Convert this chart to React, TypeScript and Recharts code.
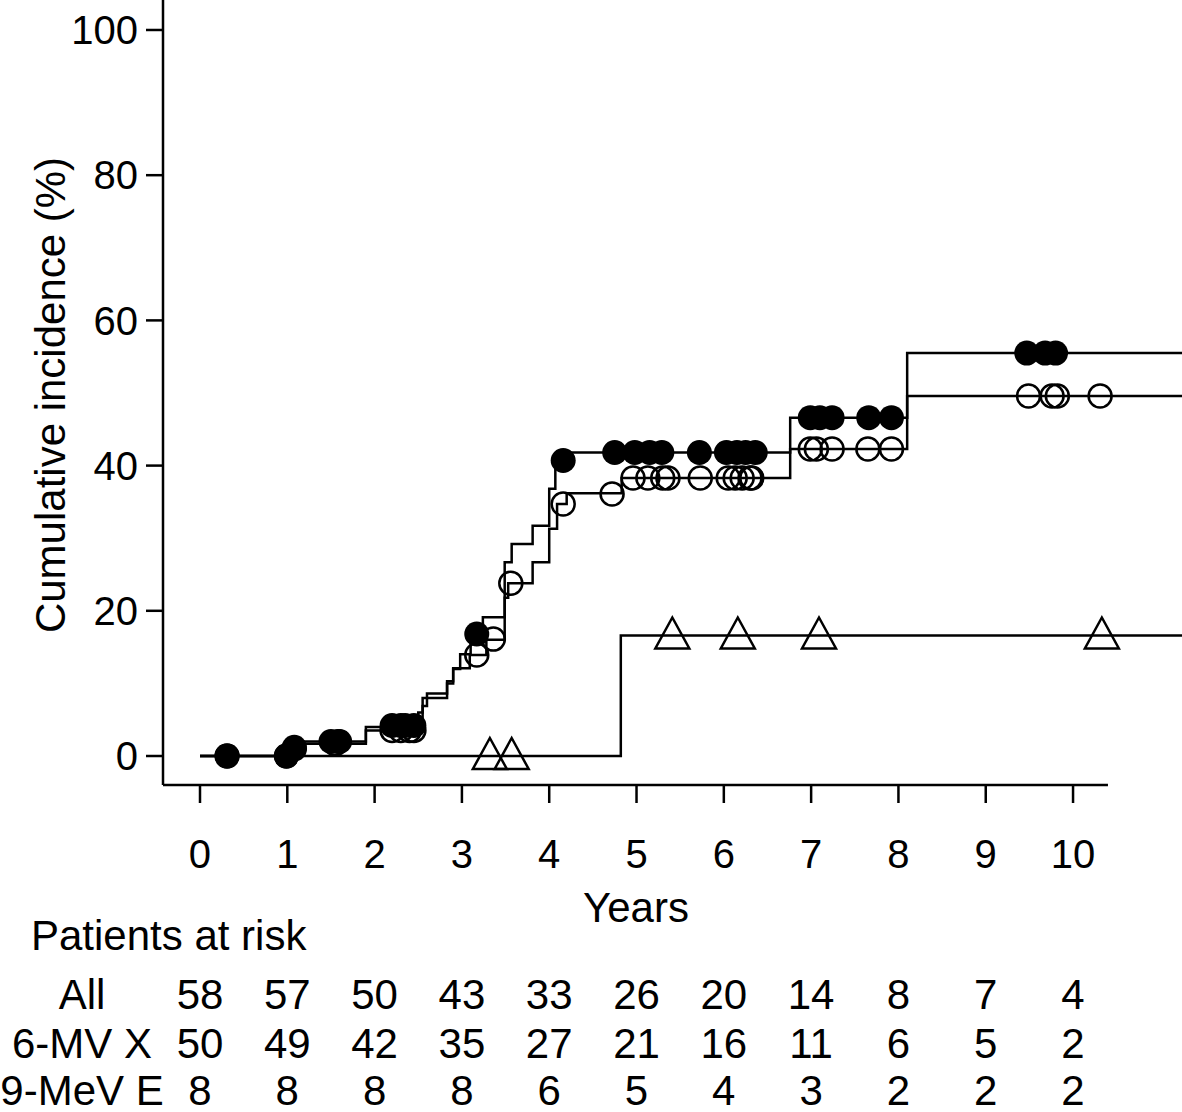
import React from 'react'
import { ComposedChart, Line, Scatter, XAxis, YAxis, ReferenceLine } from 'recharts'

// step curves, [years, cumulative incidence %]
const mvSteps = [
  [0, 0], [1.04, 2], [1.9, 4], [2.5, 6], [2.55, 8], [2.83, 10], [2.9, 12], [2.98, 14],
  [3.1, 16.8], [3.24, 19.1], [3.49, 26.7], [3.57, 29.2], [3.81, 31.7], [4.0, 36.8],
  [4.07, 40.6], [4.17, 41.8], [6.76, 46.6], [8.1, 55.5], [11.25, 55.5],
]
const allSteps = [
  [0, 0], [1.04, 1.7], [1.9, 3.5], [2.49, 5.2], [2.55, 6.9], [2.6, 8.6], [2.83, 10.3],
  [2.9, 12.1], [3.09, 13.9], [3.28, 16.0], [3.49, 21.8], [3.53, 23.8], [3.81, 26.7],
  [4.0, 31.3], [4.09, 34.7], [4.2, 36.2], [4.83, 38.3], [6.76, 42.3], [8.1, 49.6], [11.25, 49.6],
]
const meSteps = [[0, 0], [4.82, 16.6], [11.25, 16.6]]

// censoring marks
const mvCensor = [
  [0.31, 0], [0.99, 0], [1.08, 1.2], [1.5, 2], [1.58, 2], [1.6, 2], [2.2, 4.2], [2.3, 4.2],
  [2.35, 4.2], [2.45, 4.2], [3.17, 16.8], [4.16, 40.7], [4.75, 41.8], [4.98, 41.8],
  [5.15, 41.8], [5.29, 41.8], [5.72, 41.8], [6.03, 41.8], [6.15, 41.8], [6.25, 41.8],
  [6.36, 41.8], [6.99, 46.6], [7.1, 46.6], [7.24, 46.6], [7.66, 46.6], [7.92, 46.6],
  [9.47, 55.5], [9.68, 55.5], [9.8, 55.5],
]
const allCensor = [
  [0.31, 0], [0.99, 0], [1.08, 1], [1.55, 1.7], [2.2, 3.5], [2.3, 3.5], [2.4, 3.5], [2.45, 3.5],
  [3.17, 13.9], [3.36, 16.1], [3.56, 23.8], [4.16, 34.7], [4.72, 36.1], [4.96, 38.3],
  [5.13, 38.3], [5.3, 38.3], [5.36, 38.3], [5.73, 38.3], [6.05, 38.3], [6.13, 38.3],
  [6.21, 38.3], [6.3, 38.3], [6.32, 38.3], [6.99, 42.3], [7.06, 42.3], [7.24, 42.3],
  [7.65, 42.3], [7.92, 42.3], [9.49, 49.6], [9.76, 49.6], [9.82, 49.6], [10.31, 49.6],
]
const meCensor = [[3.32, 0], [3.57, 0], [5.41, 16.6], [6.16, 16.6], [7.09, 16.6], [10.33, 16.6]]

const years = [0, 1, 2, 3, 4, 5, 6, 7, 8, 9, 10]
const yTicks = [0, 20, 40, 60, 80, 100]
const riskAll = [58, 57, 50, 43, 33, 26, 20, 14, 8, 7, 4]
const riskMV = [50, 49, 42, 35, 27, 21, 16, 11, 6, 5, 2]
const riskME = [8, 8, 8, 8, 6, 5, 4, 3, 2, 2, 2]

const toPts = (arr: number[][]) => arr.map(([t, v]) => ({ t, v }))

const FONT = '"Liberation Sans", Arial, Helvetica, sans-serif'
const X_MIN = -0.4238
const X_MAX = 11.248
const Y_MIN = -3.994
const Y_MAX = 104.13

const FilledDot = (p: any) => <circle cx={p.cx} cy={p.cy} r={12.5} fill="#000" />
const OpenDot = (p: any) => <circle cx={p.cx} cy={p.cy} r={11.5} fill="none" stroke="#000" strokeWidth={2.5} />
const Tri = (p: any) => (
  <polygon
    points={`${p.cx},${p.cy - 18} ${p.cx - 17},${p.cy + 13} ${p.cx + 17},${p.cy + 13}`}
    fill="none"
    stroke="#000"
    strokeWidth={2.5}
  />
)

const colX = (yr: number) => 200 + 87.3 * yr

export default function App() {
  const rows = [
    { label: 'All', vals: riskAll, y: 994 },
    { label: '6-MV X', vals: riskMV, y: 1043 },
    { label: '9-MeV E', vals: riskME, y: 1090 },
  ]
  return (
    <div style={{ position: 'absolute', left: 0, top: 0, width: 1182, height: 1112, background: '#fff', fontFamily: FONT }}>
      <ComposedChart width={1182} height={900} margin={{ top: 0, right: 0, bottom: 0, left: 0 }}>
        <XAxis
          type="number"
          dataKey="t"
          domain={[X_MIN, X_MAX]}
          allowDataOverflow
          ticks={years}
          axisLine={false}
          tickLine={{ stroke: '#000', strokeWidth: 2.5 }}
          tickSize={18}
          tickMargin={37}
          height={115}
          tick={{ fill: '#000', fontSize: 40, fontFamily: FONT }}
          interval={0}
        />
        <YAxis
          type="number"
          dataKey="v"
          domain={[Y_MIN, Y_MAX]}
          allowDataOverflow
          ticks={yTicks}
          width={163}
          axisLine={{ stroke: '#000', strokeWidth: 2.5 }}
          tickLine={{ stroke: '#000', strokeWidth: 2.5 }}
          tickSize={17}
          tickMargin={8}
          tick={{ fill: '#000', fontSize: 40, fontFamily: FONT }}
          interval={0}
        />
        <ReferenceLine
          segment={[{ x: X_MIN, y: Y_MIN }, { x: 10.4, y: Y_MIN }]}
          stroke="#000"
          strokeWidth={2.5}
          ifOverflow="visible"
        />
        <Line data={toPts(meSteps)} dataKey="v" type="stepAfter" stroke="#000" strokeWidth={2.5} dot={false} isAnimationActive={false} />
        <Line data={toPts(allSteps)} dataKey="v" type="stepAfter" stroke="#000" strokeWidth={2.5} dot={false} isAnimationActive={false} />
        <Line data={toPts(mvSteps)} dataKey="v" type="stepAfter" stroke="#000" strokeWidth={2.5} dot={false} isAnimationActive={false} />
        <Scatter data={toPts(allCensor)} dataKey="v" shape={OpenDot} isAnimationActive={false} />
        <Scatter data={toPts(mvCensor)} dataKey="v" shape={FilledDot} isAnimationActive={false} />
        <Scatter data={toPts(meCensor)} dataKey="v" shape={Tri} isAnimationActive={false} />
      </ComposedChart>

      <svg width={1182} height={1112} style={{ position: 'absolute', left: 0, top: 0, pointerEvents: 'none' }}>
        <g fontFamily={FONT} fill="#000">
          <text x={50} y={395} fontSize={42} textAnchor="middle" dominantBaseline="central" transform="rotate(-90 50 395)">
            Cumulative incidence (%)
          </text>
          <text x={636} y={907} fontSize={42} textAnchor="middle" dominantBaseline="central">Years</text>
          <text x={31} y={935} fontSize={42} dominantBaseline="central">Patients at risk</text>
          {rows.map(r => (
            <g key={r.label}>
              <text x={82} y={r.y} fontSize={42} textAnchor="middle" dominantBaseline="central">{r.label}</text>
              {r.vals.map((n, i) => (
                <text key={i} x={colX(years[i])} y={r.y} fontSize={42} textAnchor="middle" dominantBaseline="central">{n}</text>
              ))}
            </g>
          ))}
        </g>
      </svg>
    </div>
  )
}
